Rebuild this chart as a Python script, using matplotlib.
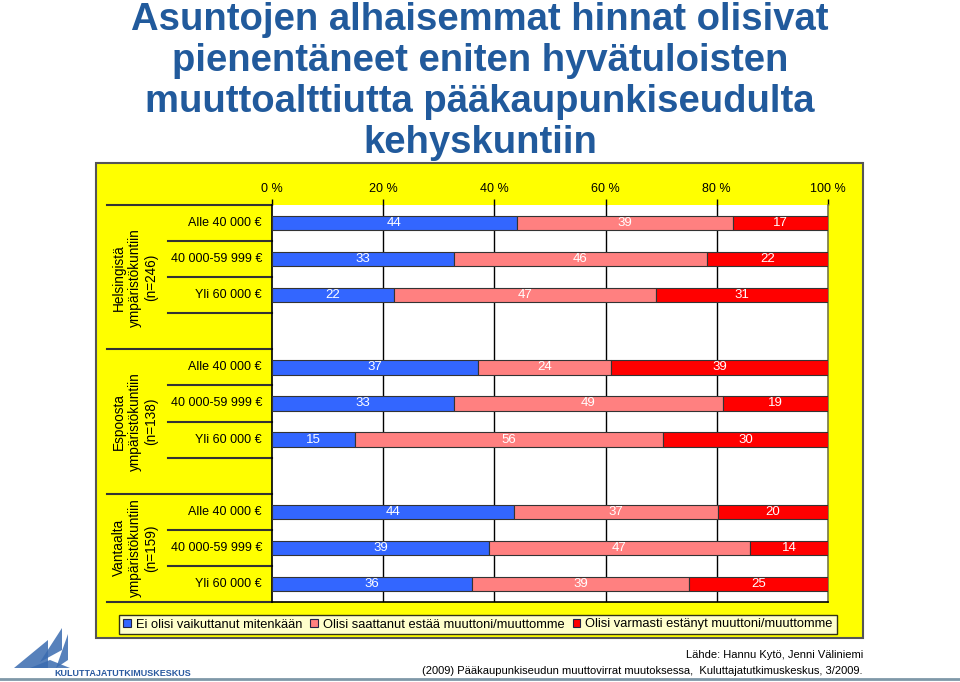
import numpy as np
import matplotlib.pyplot as plt
from matplotlib.patches import Rectangle, Polygon, Patch
from matplotlib.lines import Line2D

plt.rcParams['font.family'] = ['Liberation Sans', 'DejaVu Sans']

groups = ["Helsingistä\nympäristökuntiin\n(n=246)",
          "Espoosta\nympäristökuntiin\n(n=138)",
          "Vantaalta\nympäristökuntiin\n(n=159)"]
incomes = ["Alle 40 000 €", "40 000-59 999 €", "Yli 60 000 €"]
series = ["Ei olisi vaikuttanut mitenkään",
          "Olisi saattanut estää muuttoni/muuttomme",
          "Olisi varmasti estänyt muuttoni/muuttomme"]

ei_vaikuta = [[44, 33, 22], [37, 33, 15], [44, 39, 36]]
saattanut = [[39, 46, 47], [24, 49, 56], [37, 47, 39]]
varmasti = [[17, 22, 31], [39, 19, 30], [20, 14, 25]]

colors = ["#3366FF", "#FF8080", "#FF0000"]
title_color = "#215a9c"

W, H = 960, 682
fig = plt.figure(figsize=(W / 100, H / 100), dpi=100)
fig.patch.set_facecolor("white")


def px(x, y):
    return x / W, 1 - y / H


# yellow chart box
x0, y0 = px(96, 638)
fig.patches.append(Rectangle((x0, y0), 767 / W, 475 / H, transform=fig.transFigure,
                             facecolor="#FFFF00", edgecolor="#555555", lw=1.5, zorder=-5))

l, b = px(272, 602)
ax = fig.add_axes([l, b, 556 / W, 397 / H])
ax.set_facecolor("white")

vals = np.array([ei_vaikuta, saattanut, varmasti], dtype=float)  # series, group, row
totals = vals.sum(axis=0)

for g in range(3):
    for r in range(3):
        y = g * 4 + r
        left = 0.0
        for s in range(3):
            w = vals[s, g, r] / totals[g, r] * 100
            ax.barh(y, w, left=left, height=0.4, color=colors[s],
                    edgecolor="#333333", lw=0.8, zorder=3)
            ax.text(left + w / 2, y, f"{int(vals[s, g, r])}", ha="center", va="center",
                    color="white", fontsize=9.5, zorder=4)
            left += w

ax.set_xlim(0, 100)
ax.set_ylim(10.5, -0.5)
ax.xaxis.tick_top()
ax.set_xticks(np.arange(0, 101, 20))
ax.set_xticklabels([f"{t} %" for t in range(0, 101, 20)], fontsize=9)
ax.tick_params(axis="x", length=4, width=1, color="black", pad=3)
ax.set_yticks([])
for x in range(20, 100, 20):
    ax.axvline(x, color="black", lw=1, zorder=1)
ax.spines["top"].set_visible(False)
ax.spines["left"].set_color("black")
ax.spines["bottom"].set_color("black")
ax.spines["right"].set_color("#777744")
for sp in ax.spines.values():
    sp.set_linewidth(1.2)

# multi-level category labels on the left
trans = ax.get_yaxis_transform()
x_in = (168 - 272) / 556
x_out = (107 - 272) / 556
for yb in [-0.5, 3.5, 7.5, 10.5]:
    ax.add_line(Line2D([x_out, 0], [yb, yb], transform=trans, color="#333333",
                       lw=1.5, clip_on=False))
for yb in [0.5, 1.5, 2.5, 4.5, 5.5, 6.5, 8.5, 9.5]:
    ax.add_line(Line2D([x_in, 0], [yb, yb], transform=trans, color="#333333",
                       lw=1.5, clip_on=False))

for g in range(3):
    for r in range(3):
        ax.text(-0.018, g * 4 + r, incomes[r], transform=trans, ha="right",
                va="center", fontsize=9)
    yc = [1.5, 5.5, 9.0][g]
    ax.text((135 - 272) / 556, yc, groups[g], transform=trans, rotation=90,
            ha="center", va="center", multialignment="center", fontsize=9.8,
            linespacing=1.15)

handles = [Patch(facecolor=c, edgecolor="#222244", lw=0.8) for c in colors]
leg = fig.legend(handles, series, loc="center", bbox_to_anchor=px(478, 624.5),
                 ncol=3, fontsize=9.3, frameon=True, fancybox=False,
                 handlelength=0.6, handleheight=0.6, handletextpad=0.4,
                 columnspacing=0.6, borderpad=0.3, borderaxespad=0)
leg.get_frame().set_edgecolor("black")
leg.get_frame().set_linewidth(1.0)

# title
fig.text(0.5, 1 - 2 / H,
         "Asuntojen alhaisemmat hinnat olisivat\npienentäneet eniten hyvätuloisten\n"
         "muuttoalttiutta pääkaupunkiseudulta\nkehyskuntiin",
         ha="center", va="top", fontsize=27.5, fontweight="bold",
         color=title_color, linespacing=1.18)

# source
fig.text(*px(863, 655), "Lähde: Hannu Kytö, Jenni Väliniemi", ha="right",
         va="center", fontsize=8)
fig.text(*px(863, 671),
         "(2009) Pääkaupunkiseudun muuttovirrat muutoksessa,  Kuluttajatutkimuskeskus, 3/2009.",
         ha="right", va="center", fontsize=8)

# logo
logo_polys = [
    [(14, 668), (48, 640), (48, 668)],
    [(40, 662), (62, 628), (62, 650)],
    [(56, 668), (68, 634), (68, 660)],
    [(30, 668), (70, 668), (50, 660)],
]
for pts in logo_polys:
    fig.patches.append(Polygon([px(*p) for p in pts], closed=True,
                               transform=fig.transFigure, facecolor="#3a6bb0",
                               edgecolor="none", alpha=0.85))
fig.text(*px(54, 673), "KULUTTAJATUTKIMUSKESKUS", ha="left", va="center",
         fontsize=6.5, fontweight="bold", color="#2a5aa0")

fig.add_artist(Line2D([0, 1], [1 - 679 / H] * 2, transform=fig.transFigure,
                      color="#7f98a8", lw=2))

fig.savefig("out.png", dpi=100)
